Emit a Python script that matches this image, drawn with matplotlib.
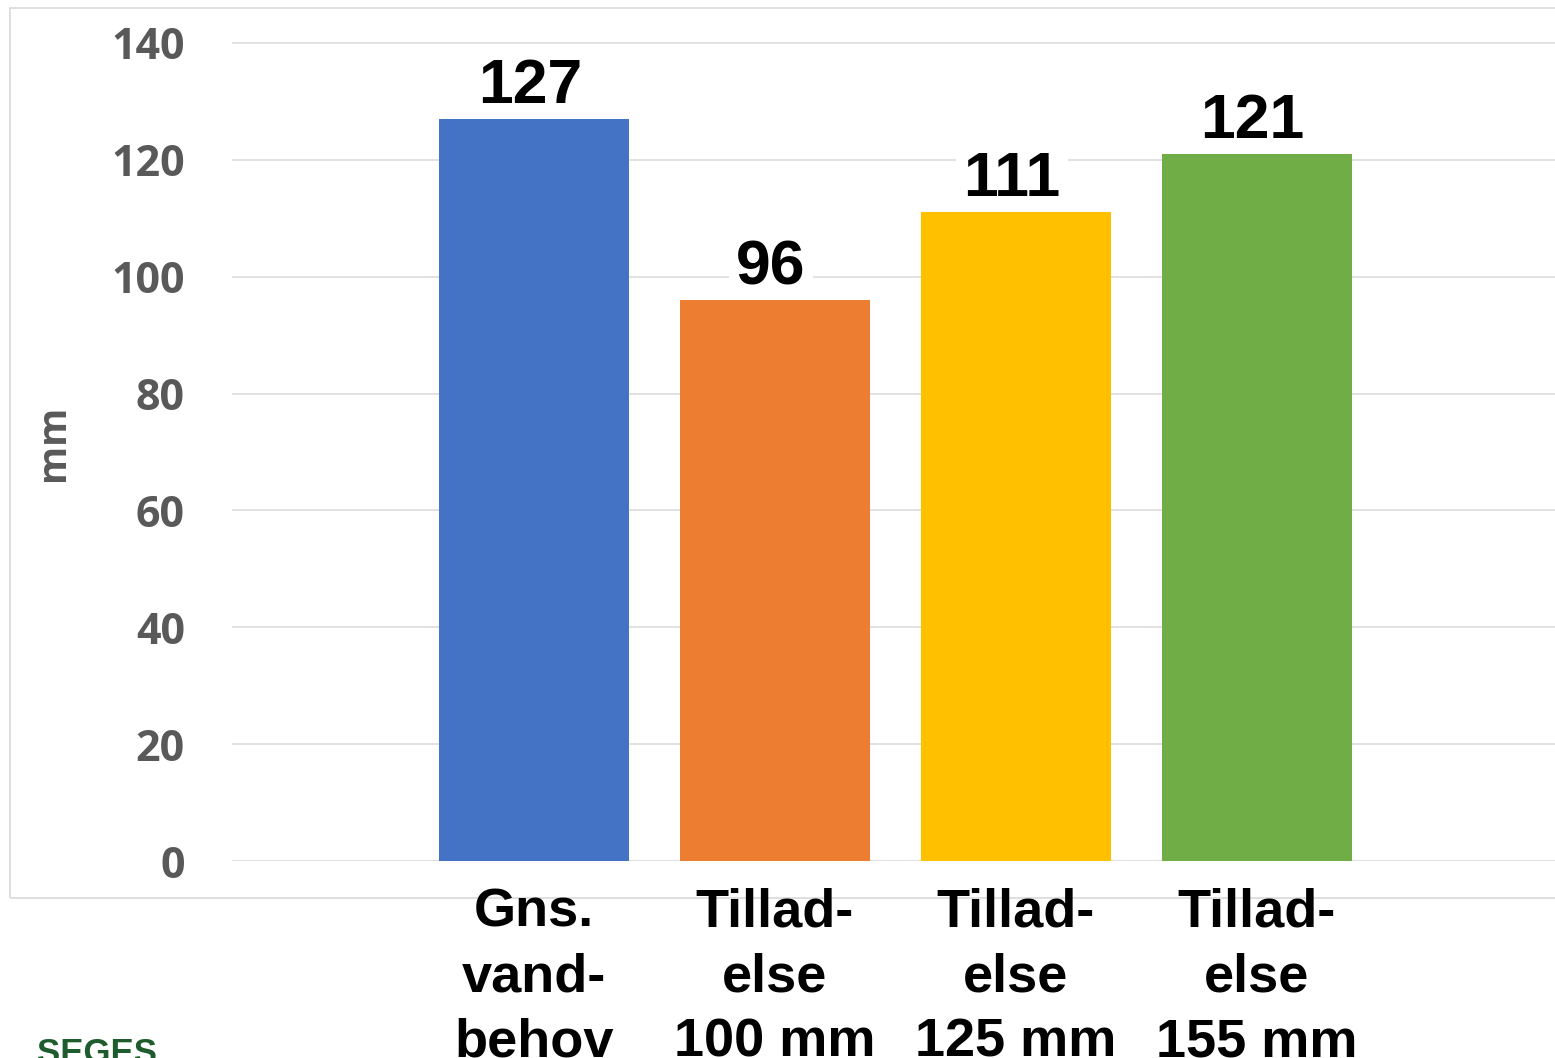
import matplotlib
matplotlib.use("Agg")
import matplotlib.pyplot as plt
from matplotlib.patches import Rectangle

categories = ["Gns.\nvand-\nbehov", "Tillad-\nelse\n100 mm", "Tillad-\nelse\n125 mm", "Tillad-\nelse\n155 mm"]
values = [127, 96, 111, 121]
colors = ["#4472C4", "#ED7D31", "#FFC000", "#70AD47"]
yticks = [0, 20, 40, 60, 80, 100, 120, 140]

W, H = 1555, 1058
fig = plt.figure(figsize=(W / 100, H / 100), dpi=100)

def fx(px):
    return px / W

def fy(py):
    return 1 - py / H

# chart border
fig.patches.append(Rectangle((fx(10), fy(898)), 1.05, fy(8) - fy(898), transform=fig.transFigure,
                             fill=False, edgecolor="#d9d9d9", linewidth=1.2, zorder=-5))

ax = fig.add_axes([fx(232), fy(861), 1 - fx(232), fy(37.1) - fy(861)])
ax.set_zorder(1)
ax.patch.set_alpha(0)
xs = list(range(len(values)))
ax.bar(xs, values, width=0.79, color=colors, zorder=2)
ax.set_xlim(-1.253, 4.237)
ax.set_ylim(0, 141)
ax.set_axisbelow(True)
for s in ax.spines.values():
    s.set_visible(False)
ax.set_yticks(yticks)
ax.yaxis.grid(True, color="#d9d9d9", linewidth=1.1)
ax.tick_params(axis="both", length=0)
ax.set_yticklabels([str(t) for t in yticks], fontsize=31, fontweight="bold", color="#595959",
                   family=["Open Sans", "DejaVu Sans"])
ax.tick_params(axis="y", pad=34)
ax.set_xticks(xs)
ax.set_xticklabels(categories, fontsize=39, fontweight="bold", color="black",
                   family=["Liberation Sans", "DejaVu Sans"], linespacing=1.38, va="top")
ax.tick_params(axis="x", pad=19)
ax.set_ylabel("mm", fontsize=28, fontweight="bold", color="#595959", family=["Open Sans", "DejaVu Sans"])
ax.yaxis.set_label_coords(-0.1204, 0.507)

for x, v in zip(xs, values):
    ax.annotate(str(v), xy=(x, v), xytext=(-3, 11.5), textcoords="offset points",
                ha="center", va="baseline", fontsize=45, fontweight="bold", color="black",
                family=["Liberation Sans", "DejaVu Sans"], annotation_clip=False, zorder=1.5,
                bbox=dict(boxstyle="square,pad=0.12", facecolor="white", edgecolor="none"))

fig.text(fx(37), fy(1063), "SEGES", fontsize=25, fontweight="bold", color="#1e5c2e",
         family=["Liberation Sans Narrow", "Liberation Sans"], ha="left", va="baseline")

fig.savefig("out.png", dpi=100)
